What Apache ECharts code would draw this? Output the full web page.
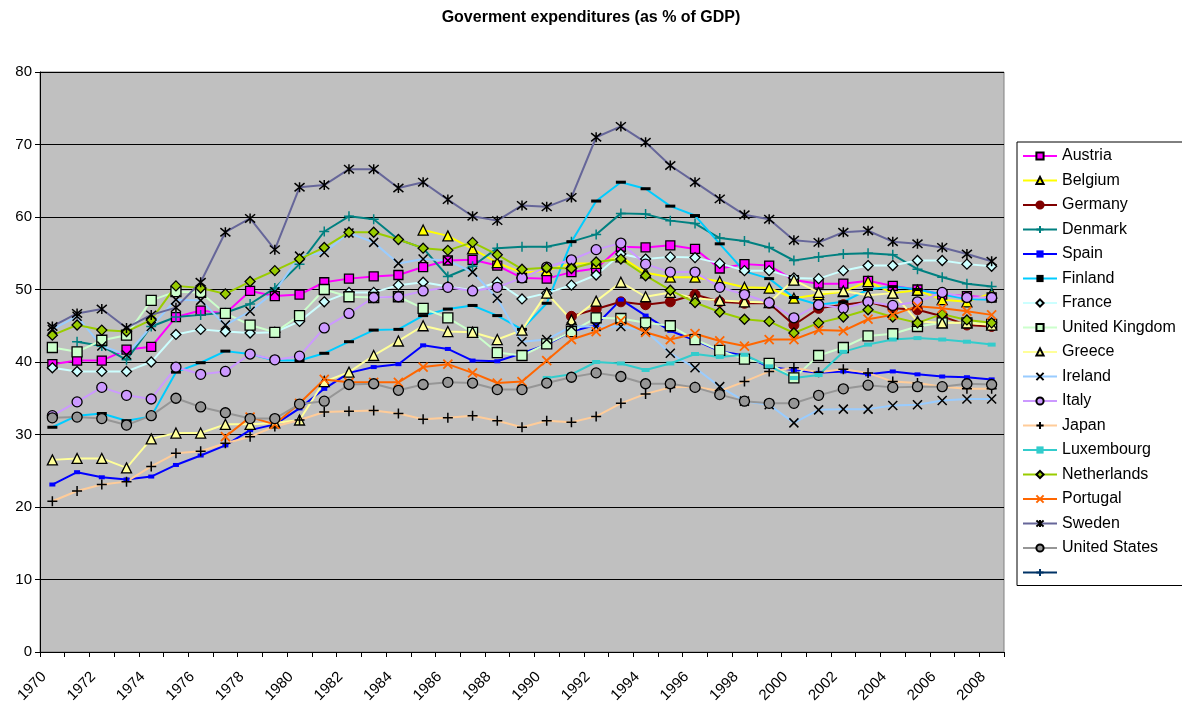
<!DOCTYPE html>
<html>
<head>
<meta charset="utf-8">
<script src="https://cdn.jsdelivr.net/npm/echarts@6/dist/echarts.min.js"></script>
<style>html,body{margin:0;padding:0;background:#fff}#c{width:1182px;height:709px}</style>
</head>
<body>
<div id="c"></div>
<script>
const years = [];
for (let y = 1970; y <= 2008; y++) years.push(String(y));

const austria = [39.7,40.2,40.2,41.7,42.1,46.2,47.1,46.7,49.8,49.1, 49.3,51.0,51.5,51.8,52.0,53.1,54.0,54.1,53.3,51.6, 51.5,52.4,52.9,55.9,55.8,56.1,55.6,52.9,53.5,53.3, 51.3,50.8,50.8,51.2,50.5,50.0,49.3,49.1,48.9];
const belgium = [null,null,null,null,null,null,null,null,null,null, null,null,null,null,null,58.2,57.4,55.6,53.7,52.3, 52.6,53.6,53.6,54.5,52.3,51.7,51.7,51.1,50.3,50.2, 48.8,49.3,49.7,51.1,49.5,49.9,48.6,48.3,49.5];
const germany = [null,null,null,null,null,null,null,null,null,null, null,null,null,null,null,null,null,null,null,null, null,46.3,47.3,48.3,47.9,48.3,49.3,48.3,48.1,48.1, 45.1,47.4,47.9,48.3,47.4,47.2,46.3,45.1,44.9];
const denmark = [null,42.8,42.2,40.3,44.9,46.2,46.5,46.8,48.0,50.2, 53.5,58.0,60.1,59.7,56.9,55.7,51.8,53.2,55.7,55.9, 55.9,56.6,57.6,60.5,60.4,59.5,59.1,57.1,56.7,55.8, 54.0,54.5,54.9,55.0,54.8,52.8,51.7,50.8,50.4];
const spain = [23.1,24.8,24.1,23.8,24.2,25.8,27.1,28.5,30.6,31.4, 33.6,36.3,38.5,39.3,39.7,42.3,41.8,40.2,40.1,41.2, 42.4,44.2,45.1,48.6,46.4,44.3,43.0,41.5,40.9,39.3, 38.9,38.5,38.7,38.3,38.7,38.3,38.0,37.9,37.6];
const finland = [31.0,32.6,32.9,31.9,32.5,38.6,39.9,41.5,41.1,40.2, 40.2,41.2,42.8,44.4,44.5,46.4,47.3,47.8,46.4,44.5, 48.1,56.6,62.2,64.8,63.9,61.5,60.2,56.3,52.5,51.5, 48.9,47.9,48.3,50.0,50.4,50.0,49.3,48.7,48.6];
const france = [39.2,38.7,38.7,38.7,40.0,43.8,44.5,44.2,44.0,44.1, 45.6,48.3,49.6,49.6,50.6,51.0,50.4,49.9,51.0,48.7, 49.5,50.6,52.0,54.9,54.2,54.5,54.4,53.6,52.6,52.6, 51.6,51.5,52.6,53.3,53.3,54.0,54.0,53.5,53.2];
const unitedKingdom = [42.0,41.4,43.0,43.7,48.5,49.7,49.6,46.7,45.1,44.1, 46.4,50.0,49.0,48.9,49.0,47.4,46.1,44.1,41.3,40.9, 42.5,44.2,46.1,46.0,45.4,45.0,43.1,41.6,40.4,39.8, 37.8,40.9,42.0,43.6,43.9,44.9,45.4,45.4,45.2];
const greece = [26.5,26.7,26.7,25.4,29.4,30.2,30.2,31.4,31.4,31.6, 32.0,37.3,38.6,40.9,42.9,45.0,44.2,44.1,43.1,44.4, 49.5,45.8,48.4,51.0,49.0,49.6,48.8,48.5,48.3,48.2, 51.3,49.6,49.8,49.2,49.5,45.6,45.4,45.4,45.1];
const ireland = [44.5,46.3,42.2,41.0,44.9,48.6,48.5,45.1,47.0,49.7, 54.6,55.1,57.8,56.5,53.6,54.2,54.0,52.4,48.8,42.8, 43.1,44.9,44.9,44.9,44.3,41.2,39.2,36.6,34.6,34.1, 31.6,33.4,33.5,33.5,34.0,34.1,34.7,34.9,34.9];
const italy = [32.6,34.5,36.5,35.4,34.9,39.3,38.3,38.7,41.1,40.3, 40.8,44.7,46.7,48.9,49.0,49.8,50.3,49.8,50.3,51.6, 53.1,54.1,55.5,56.4,53.5,52.4,52.4,50.3,49.3,48.2, 46.1,47.9,47.4,48.3,47.8,48.3,49.6,48.9,48.9];
const japan = [20.8,22.2,23.1,23.5,25.6,27.4,27.7,28.8,29.7,31.1, 32.0,33.1,33.2,33.3,32.9,32.1,32.3,32.6,31.9,31.0, 31.9,31.7,32.5,34.3,35.6,36.5,36.6,36.0,37.3,38.7, 39.2,38.6,39.0,38.5,37.3,37.1,36.6,36.3,36.3];
const luxembourg = [null,null,null,null,null,null,null,null,null,null, null,null,null,null,null,null,null,null,null,null, 37.8,38.3,40.0,39.8,38.9,39.8,41.1,40.7,41.0,39.4, 37.8,38.2,41.4,42.4,43.1,43.3,43.1,42.8,42.4];
const netherlands = [43.7,45.1,44.4,44.2,45.8,50.5,50.2,49.4,51.1,52.6, 54.2,55.8,57.9,57.9,56.9,55.7,55.4,56.5,54.8,52.8, 53.0,52.9,53.8,54.2,51.9,49.9,48.2,46.9,45.9,45.6, 44.0,45.4,46.2,47.2,46.2,45.4,46.6,45.8,45.4];
const portugal = [null,null,null,null,null,null,null,29.7,32.4,31.4, 34.3,37.6,37.2,37.2,37.2,39.3,39.7,38.5,37.1,37.3, 40.2,43.1,44.2,45.7,44.1,43.1,43.9,42.9,42.2,43.1, 43.1,44.4,44.3,45.9,46.5,47.7,47.4,47.0,46.5];
const sweden = [44.9,46.7,47.3,44.7,46.5,47.5,51.0,57.9,59.8,55.5, 64.1,64.4,66.6,66.6,64.0,64.8,62.4,60.1,59.5,61.6, 61.4,62.7,71.0,72.5,70.3,67.1,64.8,62.5,60.3,59.7, 56.8,56.5,57.9,58.1,56.6,56.3,55.8,54.9,53.9];
const unitedStates = [32.3,32.4,32.2,31.3,32.6,35.0,33.8,33.0,32.2,32.2, 34.2,34.6,36.9,37.0,36.1,36.9,37.2,37.1,36.2,36.2, 37.1,37.9,38.5,38.0,37.0,37.0,36.5,35.5,34.6,34.3, 34.3,35.4,36.3,36.8,36.5,36.6,36.6,37.0,36.9];
const blankSeries = [];

const yTicks = [0,10,20,30,40,50,60,70,80];

const X = 'path://M0,0L10,10M10,0L0,10';
const PLUS = 'path://M5,0L5,10M0,5L10,5';
const STAR = 'path://M0,0L10,10M10,0L0,10M5,-1L5,11';

function mk(name, data, line, symbol, size, fill, border, bw) {
  return {
    name: name, type: 'line', data: data,
    symbol: symbol, symbolSize: size, showSymbol: true,
    lineStyle: {color: line, width: 2},
    itemStyle: {color: fill, borderColor: border, borderWidth: bw},
    emphasis: {disabled: true},
    animation: false
  };
}

const series = [
  mk('Austria', austria, '#FF00FF', 'rect', 9, '#FF00FF', '#000', 1.3),
  mk('Belgium', belgium, '#FFFF00', 'triangle', 10, '#FFFF00', '#000', 1.3),
  mk('Germany', germany, '#800000', 'circle', 10, '#800000', '#800000', 1),
  mk('Denmark', denmark, '#008080', PLUS, 10, 'none', '#008080', 1.5),
  mk('Spain', spain, '#0000FF', 'rect', [6,4], '#0000FF', '#0000FF', 0),
  mk('Finland', finland, '#00CCFF', 'rect', [10,3], '#000', '#000', 0),
  mk('France', france, '#CCFFFF', 'diamond', 10, '#CCFFFF', '#000', 1.3),
  mk('United Kingdom', unitedKingdom, '#CCFFCC', 'rect', 10, '#CCFFCC', '#000', 1.3),
  mk('Greece', greece, '#FFFF99', 'triangle', 10, '#FFFF99', '#000', 1.3),
  mk('Ireland', ireland, '#99CCFF', X, 9, 'none', '#000', 1.5),
  mk('Italy', italy, '#CC99FF', 'circle', 10, '#CC99FF', '#000', 1.3),
  mk('Japan', japan, '#FFCC99', PLUS, 10, 'none', '#000', 1.5),
  mk('Luxembourg', luxembourg, '#33CCCC', 'rect', [8,4], '#33CCCC', '#33CCCC', 0),
  mk('Netherlands', netherlands, '#99CC00', 'diamond', 10, '#99CC00', '#000', 1.3),
  mk('Portugal', portugal, '#FF6600', X, 9, 'none', '#FF6600', 1.8),
  mk('Sweden', sweden, '#666699', STAR, 10, 'none', '#000', 1.5),
  mk('United States', unitedStates, '#969696', 'circle', 10, '#969696', '#000', 1.3),
  mk(' ', blankSeries, '#003366', PLUS, 10, 'none', '#003366', 1.5)
];

const chart = echarts.init(document.getElementById('c'), null, {renderer: 'canvas'});
chart.setOption({
  backgroundColor: '#FFFFFF',
  animation: false,
  title: {
    text: 'Goverment expenditures (as % of GDP)',
    left: 'center', top: 5,
    textStyle: {fontFamily: 'Liberation Sans, Arial, sans-serif', fontSize: 16, fontWeight: 'bold', color: '#000'}
  },
  legend: {
    orient: 'vertical', left: 1017, top: 142,
    data: series.map(s => s.name),
    itemWidth: 34, itemHeight: 9, itemGap: 8.5,
    padding: [6, 40, 5, 5],
    borderColor: '#000', borderWidth: 1,
    textStyle: {fontFamily: 'Liberation Sans, Arial, sans-serif', fontSize: 16, color: '#000'},
    selectedMode: false
  },
  grid: {
    left: 40, right: 178, top: 72, bottom: 57,
    show: true, backgroundColor: '#C0C0C0', borderColor: '#808080', borderWidth: 1
  },
  xAxis: {
    type: 'category', data: years, boundaryGap: true,
    axisLine: {show: true, lineStyle: {color: '#000', width: 1}},
    axisTick: {show: true, interval: 0, length: 5, lineStyle: {color: '#000'}},
    axisLabel: {interval: 1, rotate: 45, fontFamily: 'Liberation Sans, Arial, sans-serif', fontSize: 15, color: '#000', margin: 14, padding: [0, 12, 0, 0]},
    splitLine: {show: false}
  },
  yAxis: {
    type: 'value', min: yTicks[0], max: yTicks[yTicks.length-1], interval: 10,
    axisLine: {show: true, lineStyle: {color: '#000', width: 1}},
    axisTick: {show: true, length: 5, lineStyle: {color: '#000'}},
    axisLabel: {fontFamily: 'Liberation Sans, Arial, sans-serif', fontSize: 15, color: '#000', margin: 8},
    splitLine: {show: true, lineStyle: {color: '#000', width: 1}}
  },
  series: series
});
</script>
</body>
</html>
